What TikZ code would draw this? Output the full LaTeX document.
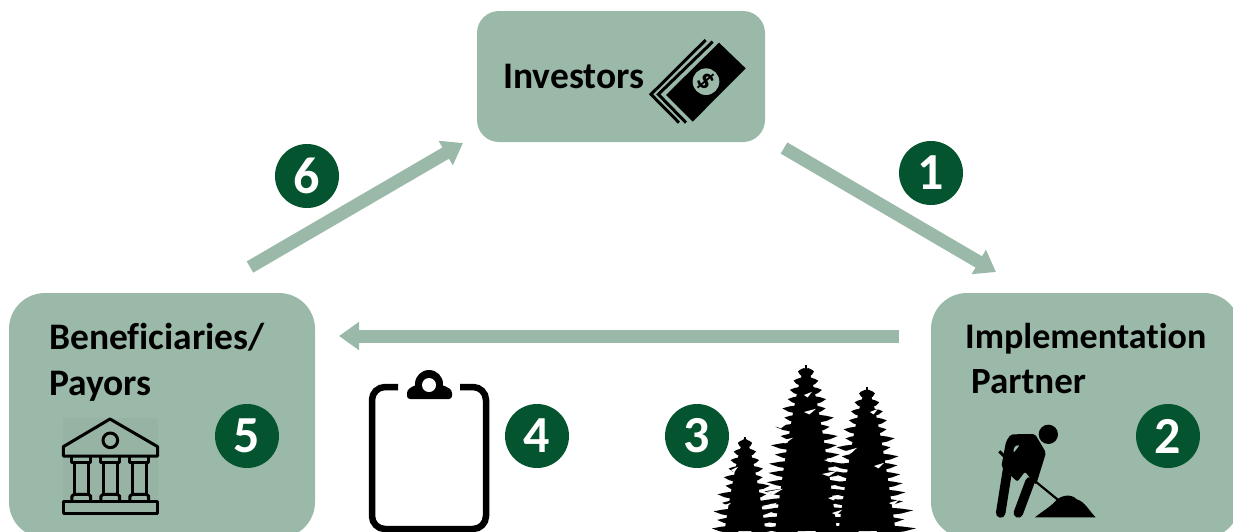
\documentclass[tikz,border=0pt]{standalone}
\usepackage{fontspec}
\setmainfont{Carlito}[Ligatures=CommonOff]
\usetikzlibrary{arrows.meta}
\definecolor{boxgreen}{HTML}{9BB9A9}
\definecolor{darkgreen}{HTML}{04552F}
\tikzset{
  panel/.style={fill=boxgreen,draw=none,rounded corners=#1},
  flow/.style={draw=boxgreen,line width=13pt,-{Triangle[length=20pt,width=27pt]}},
  badge/.style={circle,fill=darkgreen,text=white,minimum size=64pt,inner sep=0pt,font=\fontsize{52}{52}\selectfont\bfseries},
  lbl/.style={font=\fontsize{37.5}{40}\selectfont\bfseries,text=black,inner sep=0pt,anchor=base west},
  iconline/.style={draw=black,line width=3pt,line join=round,line cap=round},
}
% tree: cx, apex y, base y, half width, tiers
\newcommand{\firtree}[5]{%
  \pgfmathsetmacro{\tH}{#3-#2}
  \fill[black] plot[domain=0.02:1,samples=16] ({#1+0.62*#4*pow(\x,0.7)},{#2+\tH*\x})
    -- plot[domain=1:0.02,samples=16] ({#1-0.62*#4*pow(\x,0.7)},{#2+\tH*\x}) -- cycle;
  \foreach \i in {1,...,#5}{%
    \pgfmathsetmacro{\st}{\tH/#5}
    \pgfmathsetmacro{\yy}{#2+\st*\i}
    \pgfmathsetmacro{\tt}{pow(\i/#5,0.62)}
    \pgfmathsetmacro{\hr}{#4*\tt*(0.97+0.07*sin(\i*137)+0.06*cos(\i*180))}
    \pgfmathsetmacro{\hl}{#4*\tt*(0.97+0.07*sin(\i*211+40)-0.06*cos(\i*180))}
    \fill[black] (#1+0.2*\hr,\yy-0.7*\st) -- (#1+0.72*\hr,\yy-0.5*\st) -- (#1+\hr,\yy-0.3*\st) -- (#1+0.75*\hr,\yy+0.05*\st) -- (#1+0.2*\hr,\yy+0.4*\st) -- cycle;
    \fill[black] (#1-0.2*\hl,\yy-0.7*\st) -- (#1-0.72*\hl,\yy-0.5*\st) -- (#1-\hl,\yy-0.3*\st) -- (#1-0.75*\hl,\yy+0.05*\st) -- (#1-0.2*\hl,\yy+0.4*\st) -- cycle;
  }%
  \draw[black,line width=1.6pt] (#1,#2) -- (#1,#3);
}
\begin{document}
\begin{tikzpicture}[x=1pt,y=-1pt]
\useasboundingbox (0,0) rectangle (1233,531);
% panels
\path[panel=22pt] (477,11) rectangle (765,142);
\path[panel=36pt] (9,293) rectangle (315,538);
\path[panel=36pt] (931,293) rectangle (1240,538);
\node[lbl] (inv) at (503,88) {Investors};
\node[lbl] (ben1) at (49,349) {Beneficiaries/};
\node[lbl] (ben2) at (49,395) {Payors};
\node[lbl,font=\fontsize{36}{40}\selectfont\bfseries] (imp1) at (965,348) {Implementation};
\node[lbl,font=\fontsize{37}{40}\selectfont\bfseries] (imp2) at (971,393) {Partner};
% connectors
\coordinate (a1s) at (784,148);
\coordinate (a1e) at (996,272);
\coordinate (a6s) at (250,267);
\coordinate (a6e) at (463,143);
\coordinate (a4s) at (899,336);
\coordinate (a4e) at (339,336);
\draw[flow] (a1s) -- (a1e);
\draw[flow] (a6s) -- (a6e);
\draw[flow] (a4s) -- (a4e);
% badges
\node[badge] (b6) at (307,176) {6};
\node[badge] (b1) at (931,173) {1};
\node[badge] (b5) at (247,436) {5};
\node[badge] (b4) at (537,436) {4};
\node[badge] (b3) at (697,436) {3};
\node[badge] (b2) at (1168,436) {2};
% money
\begin{scope}[shift={(640,30)},x=0.3333pt,y=-0.3333pt]
  \draw[black,line width=3pt,line join=miter] (197,30) -- (33,193) -- (117,278);
  \draw[black,line width=3pt,line join=miter] (218,35) -- (55,193) -- (138,278);
  \fill[black] (237,38) -- (317,115) -- (158,275) -- (78,195) -- cycle;
  \fill[boxgreen] (198,155) circle (40);
  \node[rotate=-45,font=\fontsize{28}{28}\selectfont\bfseries,text=black,inner sep=0pt] (dollar) at (198,155) {\$};
\end{scope}
% bank
\fill[black!30!boxgreen,opacity=.1] (63,418) rectangle (158,516);
\begin{scope}[shift={(40,400)},x=0.3333pt,y=-0.3333pt]
  \draw[iconline] (210,57) -- (70,140) -- (70,168) -- (353,168) -- (353,140) -- cycle;
  \draw[iconline] (211,121) circle (22);
  \foreach \c in {124,211,298}{
    \draw[iconline] (\c-28,172) -- (\c-28,186) -- (\c+28,186) -- (\c+28,172);
    \draw[iconline] (\c-21,188) -- (\c-21,283);
    \draw[iconline] (\c+21,188) -- (\c+21,283);
    \draw[iconline] (\c-28,300) -- (\c-28,288) -- (\c-21,283) -- (\c+21,283) -- (\c+28,288) -- (\c+28,300);
  }
  \draw[iconline] (70,303) rectangle (353,342);
\end{scope}
% clipboard
\draw[black,line width=6.5pt,rounded corners=13pt] (398,387) -- (372,387) -- (372,529) -- (486,529) -- (486,387) -- (460,387);
\fill[black,rounded corners=3pt] (407,399) -- (407,390) -- (415,385) -- (443,385) -- (452,390) -- (452,399) -- cycle;
\fill[black] (429,384) circle (14);
\fill[white] (429,385) circle (7);
% trees
\firtree{745}{437}{531}{33}{11}
\firtree{806}{365}{531}{50}{18}
\firtree{867}{387}{531}{46}{16}
\foreach \slx/\sly/\sll in {766/492/17,762/506/15,824/460/16,822/474/15,828/498/12,832/513/10,779/441/14,804/412/12,775/426/13,846/451/11,874/466/10,889/503/10,721/506/10,804/395/8,870/412/8,731/470/7}{
  \fill[white] (\slx,\sly) -- (\slx+\sll,\sly-3.2) -- (\slx+0.45*\sll,\sly+2.4) -- cycle;
}
% worker
\begin{scope}[shift={(980,410)},x=0.3333pt,y=-0.3333pt]
  \fill[black] (205,73) circle (29);
  \fill[black,rounded corners=2pt,even odd rule] (78,95) -- (92,73) -- (165,72) -- (198,128) -- (168,225) -- (135,185) -- (112,215) -- (64,170) -- cycle
    (102,108) -- (120,105) -- (100,130) -- cycle;
  \draw[black,line width=9.5pt,line cap=round] (84,170) -- (62,309);
  \draw[black,line width=9.5pt,line cap=round] (150,215) -- (115,309);
  \draw[black,line width=3pt] (58,124) -- (82,148);
  \draw[black,line width=2.2pt] (155,205) -- (237,272);
  \fill[black] (165,322) .. controls (185,305) and (205,295) .. (225,275) .. controls (240,255) and (275,250) .. (290,268) .. controls (315,275) and (325,300) .. (347,322) -- cycle;
\end{scope}
\end{tikzpicture}
\end{document}
